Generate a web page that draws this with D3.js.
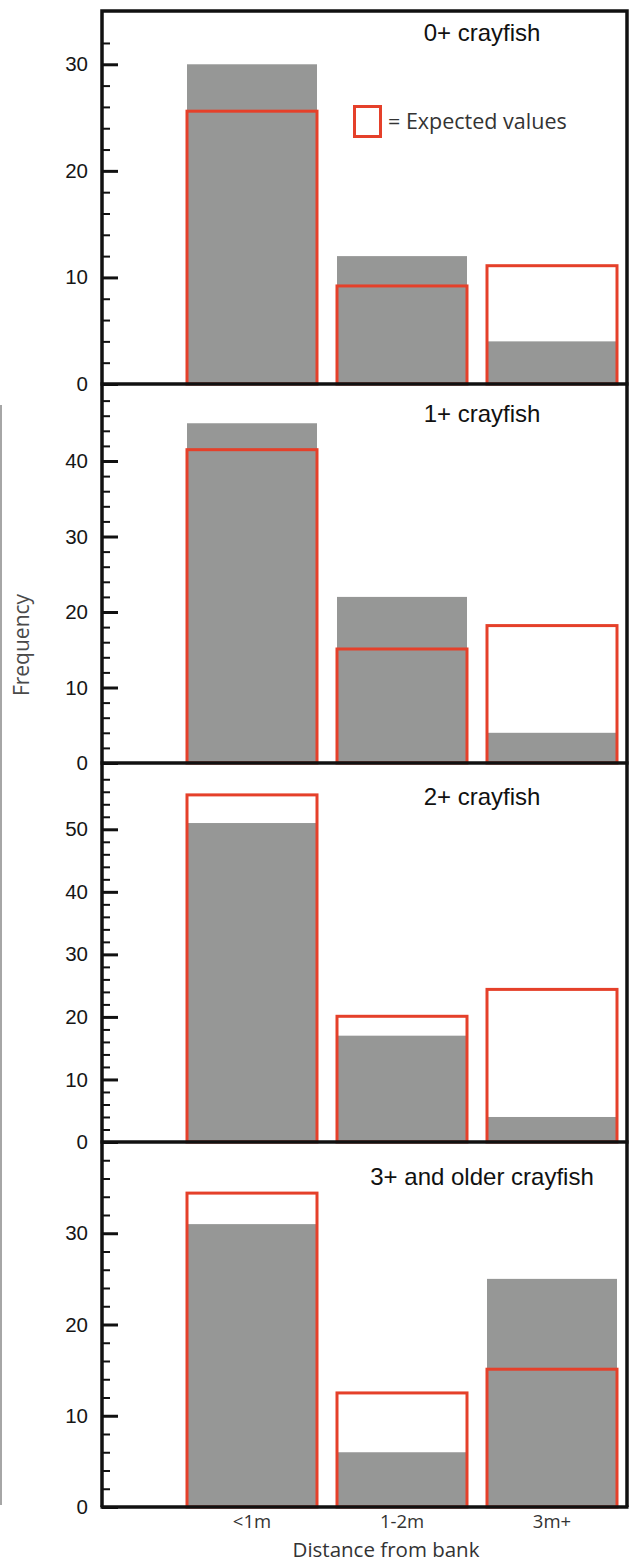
<!DOCTYPE html>
<html>
<head>
<meta charset="utf-8">
<script src="https://cdn.jsdelivr.net/npm/d3@7"></script>
<style>
  body { margin: 0; background: #fff; }
  svg { display: block; }
</style>
</head>
<body>
<div id="chart"></div>
<script>
// crayfish distance-from-bank frequencies, observed (grey) vs expected (red outline)
var categories = ["<1m", "1-2m", "3m+"];
var panelTitles = ["0+ crayfish", "1+ crayfish", "2+ crayfish", "3+ and older crayfish"];

var observed0 = [30, 12, 4];
var expected0 = [25.6, 9.2, 11.1];
var observed1 = [45, 22, 4];
var expected1 = [41.5, 15.1, 18.2];
var observed2 = [51, 17, 4];
var expected2 = [55.5, 20.1, 24.4];
var observed3 = [31, 6, 25];
var expected3 = [34.4, 12.5, 15.1];

var observed = [observed0, observed1, observed2, observed3];
var expected = [expected0, expected1, expected2, expected3];
var yMax = [35, 50.2, 60.6, 40];

var width = 633, height = 1562;
var left = 102, right = 627;
var panelTop = [11, 384, 763, 1142];
var panelBottom = [384, 763, 1142, 1507];
var titleDy = [30, 38, 42, 43];

var red = "#e5402a", grey = "#969796";

var svg = d3.select("#chart")
    .append("svg")
    .attr("width", width)
    .attr("height", height);

// X scale shared by every panel
var x = d3.scaleBand()
    .domain(categories)
    .range([177, 627])
    .paddingInner(20 / 150)
    .paddingOuter(10 / 150);

panelTitles.forEach(function (title, p) {
    var y = d3.scaleLinear()
        .domain([0, yMax[p]])
        .range([panelBottom[p], panelTop[p]]);

    var g = svg.append("g").attr("class", "panel");

    // observed bars
    g.selectAll("rect.obs")
        .data(observed[p])
        .enter()
        .append("rect")
        .attr("class", "obs")
        .attr("x", function (d, i) { return x(categories[i]); })
        .attr("y", function (d) { return y(d); })
        .attr("width", x.bandwidth())
        .attr("height", function (d) { return y(0) - y(d); })
        .attr("fill", grey);

    // expected outlines
    g.selectAll("rect.exp")
        .data(expected[p])
        .enter()
        .append("rect")
        .attr("class", "exp")
        .attr("x", function (d, i) { return x(categories[i]); })
        .attr("y", function (d) { return y(d); })
        .attr("width", x.bandwidth())
        .attr("height", function (d) { return y(0) - y(d); })
        .attr("fill", "none")
        .attr("stroke", red)
        .attr("stroke-width", 3);

    // minor ticks every 2
    var minor = d3.range(0, yMax[p] - 1, 2).filter(function (v) { return v % 10 !== 0; });
    var major = d3.range(0, yMax[p] - 1, 10);

    var minorAxis = d3.axisLeft(y).tickValues(minor).tickSize(-8).tickFormat("");
    g.append("g")
        .attr("transform", "translate(" + left + ",0)")
        .call(minorAxis)
        .call(function (s) {
            s.select(".domain").remove();
            s.selectAll("line").attr("stroke", "#111").attr("stroke-width", 2);
        });

    var majorAxis = d3.axisLeft(y).tickValues(major).tickSize(-16).tickPadding(14);
    g.append("g")
        .attr("transform", "translate(" + left + ",0)")
        .call(majorAxis)
        .call(function (s) {
            s.select(".domain").remove();
            s.selectAll("line").attr("stroke", "#111").attr("stroke-width", 3);
            s.selectAll("text")
                .attr("font-family", "'Liberation Sans', Arial, sans-serif")
                .attr("font-size", "20.5px")
                .attr("fill", "#161616");
        });

    // panel title
    g.append("text")
        .attr("x", 482)
        .attr("y", panelTop[p] + titleDy[p])
        .attr("text-anchor", "middle")
        .attr("font-family", "'Liberation Sans', Arial, sans-serif")
        .attr("font-size", "24px")
        .attr("fill", "#111")
        .text(title);

    // zero line of each panel
    g.append("line")
        .attr("x1", left - 1.5).attr("x2", right + 1.5)
        .attr("y1", y(0)).attr("y2", y(0))
        .attr("stroke", "#111")
        .attr("stroke-width", 3.5);
});

// frame: top, left axis and right border
svg.append("path")
    .attr("d", "M" + left + "," + panelBottom[3] + "V" + panelTop[0] + "H" + right + "V" + panelBottom[3])
    .attr("fill", "none")
    .attr("stroke", "#111")
    .attr("stroke-width", 3.5);

// legend in the first panel
svg.append("rect")
    .attr("x", 354.5).attr("y", 106.5)
    .attr("width", 26).attr("height", 30)
    .attr("fill", "none")
    .attr("stroke", red)
    .attr("stroke-width", 3);

svg.append("text")
    .attr("x", 388)
    .attr("y", 129)
    .attr("font-family", "'Open Sans', sans-serif")
    .attr("font-size", "21.5px")
    .attr("fill", "#333")
    .text("= Expected values");

// x axis labels under the last panel
var xAxis = d3.axisBottom(x).tickSize(0).tickPadding(8);
svg.append("g")
    .attr("transform", "translate(0," + panelBottom[3] + ")")
    .call(xAxis)
    .call(function (s) {
        s.select(".domain").remove();
        s.selectAll("text")
            .attr("font-family", "'Open Sans', sans-serif")
            .attr("font-size", "18.5px")
            .attr("fill", "#333");
    });

svg.append("text")
    .attr("x", 386)
    .attr("y", 1557)
    .attr("text-anchor", "middle")
    .attr("font-family", "'Open Sans', sans-serif")
    .attr("font-size", "20.5px")
    .attr("fill", "#333")
    .text("Distance from bank");

svg.append("text")
    .attr("transform", "translate(29,645) rotate(-90)")
    .attr("text-anchor", "middle")
    .attr("font-family", "'Open Sans', sans-serif")
    .attr("font-size", "21px")
    .attr("fill", "#4a4a4a")
    .text("Frequency");

// thin grey rule at the far left
svg.append("line")
    .attr("x1", 1).attr("x2", 1)
    .attr("y1", 405).attr("y2", 1505)
    .attr("stroke", "#888")
    .attr("stroke-width", 1.5);
</script>
</body>
</html>
